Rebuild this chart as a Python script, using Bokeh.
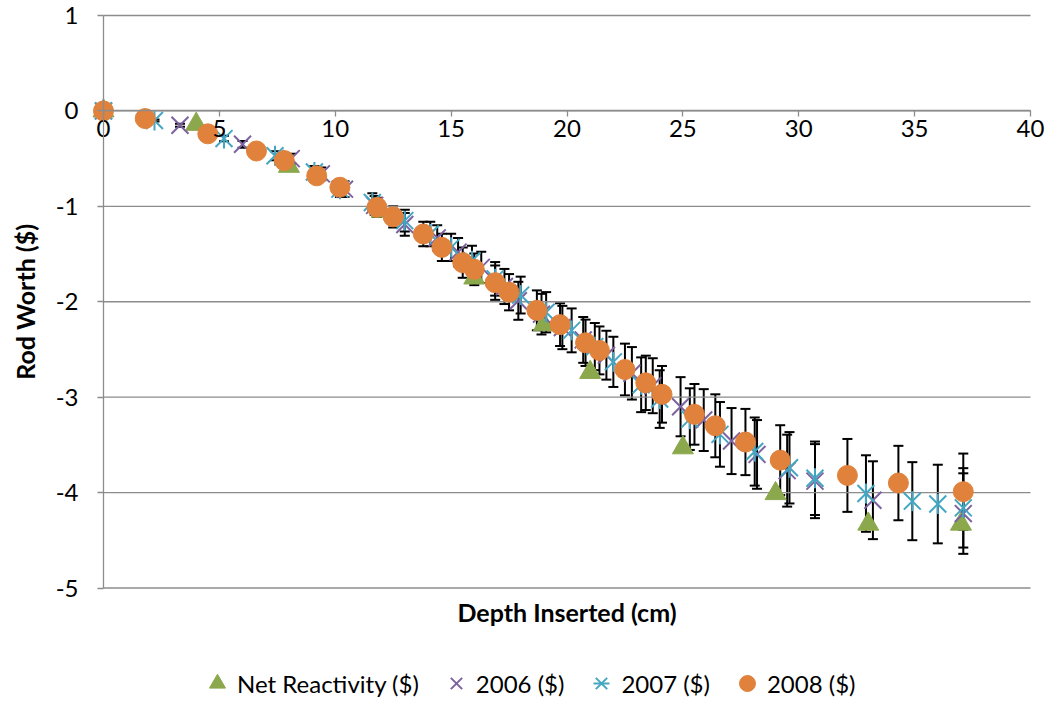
import math
from bokeh.plotting import figure
from bokeh.models import (LinearAxis, FixedTicker, Range1d, Whisker, TeeHead,
                          ColumnDataSource, Legend, LegendItem, Label)
from bokeh.embed import file_html
from bokeh.resources import INLINE

FONT = "Lato"
GRID = "#8c8c8c"

# Net reactivity measurement
net_depth = [0, 4, 8, 12, 16, 19, 21, 25, 29, 33, 37]
net_worth = [0, -0.14, -0.58, -1.05, -1.75, -2.24, -2.74, -3.53, -4.01, -4.33, -4.33]

# 2006 rod calibration
d2006 = [0, 3.3, 6.0, 8.1, 9.4, 10.4, 11.7, 13.0, 14.4, 15.3, 16.3, 17.3, 17.9, 18.9,
         19.8, 20.7, 21.7, 22.8, 23.7, 24.9, 25.9, 27.1, 28.2, 29.5, 30.7, 33.2, 37.1]
w2006 = [0, -0.15, -0.35, -0.50, -0.66, -0.82, -0.99, -1.19, -1.33, -1.48, -1.64, -1.84,
         -1.99, -2.13, -2.27, -2.40, -2.56, -2.75, -2.88, -3.10, -3.24, -3.46, -3.60,
         -3.77, -3.88, -4.08, -4.22]

# 2007 rod calibration
d2007 = [0, 2.2, 5.2, 7.4, 9.1, 10.2, 11.6, 13.0, 14.1, 15.0, 15.9, 16.9, 18.0, 19.1,
         20.2, 21.2, 22.0, 23.2, 24.0, 25.3, 26.6, 28.1, 29.6, 30.7, 32.9, 34.9, 36.0, 37.1]
w2007 = [0, -0.10, -0.29, -0.47, -0.64, -0.82, -0.96, -1.15, -1.29, -1.43, -1.57, -1.76,
         -1.93, -2.11, -2.30, -2.47, -2.63, -2.87, -3.02, -3.23, -3.39, -3.57, -3.74,
         -3.85, -4.01, -4.09, -4.12, -4.16]

# 2008 rod calibration
d2008 = [0, 1.8, 4.5, 6.6, 7.8, 9.2, 10.2, 11.8, 12.5, 13.8, 14.6, 15.5, 16.0, 16.9,
         17.5, 18.7, 19.7, 20.8, 21.4, 22.5, 23.4, 24.1, 25.5, 26.4, 27.7, 29.2, 32.1,
         34.3, 37.1]
w2008 = [0, -0.08, -0.24, -0.42, -0.52, -0.68, -0.80, -1.01, -1.11, -1.29, -1.43, -1.59,
         -1.66, -1.80, -1.90, -2.09, -2.24, -2.43, -2.51, -2.71, -2.85, -2.97, -3.18,
         -3.30, -3.47, -3.66, -3.82, -3.90, -3.99]

ERR_FRAC = 0.10  # relative uncertainty shown as error bars

x_ticks = [0, 5, 10, 15, 20, 25, 30, 35, 40]
y_ticks = [-5, -4, -3, -2, -1, 0, 1]

COL_NET = "#8ba84c"
COL_2006 = "#7d62a0"
COL_2007 = "#45a6c2"
COL_2008 = "#e0823c"

# canvas geometry: the plotting box spans the whole canvas so the
# axes (which cross at the origin) and their labels are never clipped
W, H = 1054, 703
AX_L, AX_R, AX_T, AX_B = 103, 1030, 15, 587.5   # pixel box of the 0..40 x 1..-5 region
X_LO, X_HI = x_ticks[0], x_ticks[-1]
Y_LO, Y_HI = y_ticks[0], y_ticks[-1]
sx = (AX_R - AX_L) / (X_HI - X_LO)
sy = (AX_B - AX_T) / (Y_HI - Y_LO)
x_range = Range1d(X_LO - AX_L / sx, X_HI + (W - AX_R) / sx)
y_range = Range1d(Y_LO - (H - AX_B) / sy, Y_HI + AX_T / sy)

p = figure(width=W, height=H, x_range=x_range, y_range=y_range,
           output_backend="svg", toolbar_location=None,
           x_axis_location=None, y_axis_location=None,
           min_border=0, min_border_left=0, min_border_right=0,
           min_border_top=0, min_border_bottom=0)
p.outline_line_color = None
p.background_fill_color = "white"
p.border_fill_color = "white"
p.grid.visible = False

# horizontal gridlines between the axis limits
p.segment(x0=[X_LO] * len(y_ticks), x1=[X_HI] * len(y_ticks), y0=y_ticks, y1=y_ticks,
          line_color=GRID, line_width=1.3)


def style_axis(ax):
    ax.axis_line_color = GRID
    ax.axis_line_width = 1.3
    ax.major_tick_line_color = GRID
    ax.major_tick_line_width = 1.3
    ax.major_tick_out = 6
    ax.major_tick_in = 0
    ax.minor_tick_out = 0
    ax.minor_tick_in = 0
    ax.major_label_text_font = FONT
    ax.major_label_text_font_size = "24px"
    ax.major_label_text_color = "black"


x0 = LinearAxis(fixed_location=0, ticker=FixedTicker(ticks=x_ticks), bounds=(X_LO, X_HI))
style_axis(x0)
x0.major_label_standoff = 3
p.add_layout(x0, "below")

y0 = LinearAxis(fixed_location=0, ticker=FixedTicker(ticks=y_ticks), bounds=(Y_LO, Y_HI))
style_axis(y0)
y0.major_label_overrides = {t: str(t) for t in y_ticks}
y0.major_label_standoff = 19
p.add_layout(y0, "left")

p.add_layout(Label(x=(AX_L + AX_R) / 2, y=H - 611, x_units="screen", y_units="screen",
                   text="Depth Inserted (cm)", text_font=FONT, text_font_style="bold",
                   text_font_size="25px", text_align="center", text_baseline="middle",
                   text_color="black"))
p.add_layout(Label(x=24, y=H - (AX_T + AX_B) / 2, x_units="screen", y_units="screen",
                   text="Rod Worth ($)", text_font=FONT, text_font_style="bold",
                   text_font_size="25px", text_align="center", text_baseline="middle",
                   angle=math.pi / 2, text_color="black"))


def add_errors(depth, worth):
    src = ColumnDataSource(dict(
        x=depth,
        upper=[w + ERR_FRAC * abs(w) for w in worth],
        lower=[w - ERR_FRAC * abs(w) for w in worth],
    ))
    p.add_layout(Whisker(base="x", upper="upper", lower="lower", source=src,
                         dimension="height", line_color="black", line_width=2,
                         upper_head=TeeHead(size=10, line_color="black", line_width=2),
                         lower_head=TeeHead(size=10, line_color="black", line_width=2)))


add_errors(d2006, w2006)
add_errors(d2007, w2007)
add_errors(d2008, w2008)

r_net = p.scatter(net_depth, net_worth, marker="triangle", size=21,
                  fill_color=COL_NET, line_color=COL_NET)
r_06 = p.scatter(d2006, w2006, marker="x", size=24, line_color=COL_2006, line_width=2)
r_07a = p.scatter(d2007, w2007, marker="x", size=24, line_color=COL_2007, line_width=2)
r_07b = p.scatter(d2007, w2007, marker="dash", size=20, angle=math.pi / 2,
                  line_color=COL_2007, line_width=2)
r_08 = p.scatter(d2008, w2008, marker="circle", size=20,
                 fill_color=COL_2008, line_color=COL_2008)

legend = Legend(items=[
    LegendItem(label="Net Reactivity ($)", renderers=[r_net]),
    LegendItem(label="2006 ($)", renderers=[r_06]),
    LegendItem(label="2007 ($)", renderers=[r_07a, r_07b]),
    LegendItem(label="2008 ($)", renderers=[r_08]),
], orientation="horizontal", location=(197, 0), glyph_width=40, glyph_height=40,
    label_standoff=0, spacing=17, padding=0, margin=0, border_line_color=None,
    background_fill_alpha=0, label_text_font=FONT, label_text_font_size="24px",
    label_text_color="black")
p.add_layout(legend)

open("out.html", "w").write(file_html(p, INLINE))
